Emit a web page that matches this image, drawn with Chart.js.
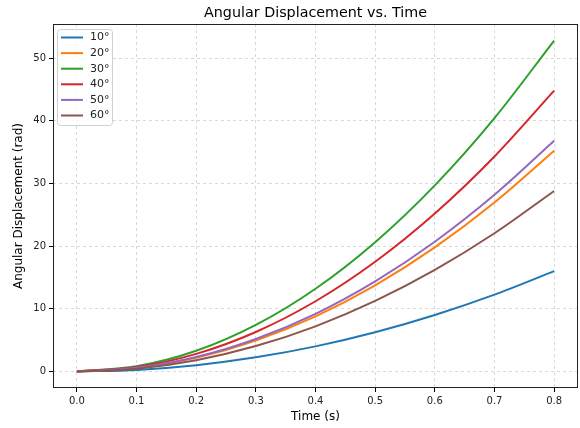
<!DOCTYPE html>
<html>
<head>
<meta charset="utf-8">
<script src="https://cdn.jsdelivr.net/npm/chart.js@4"></script>
<style>
  html, body { margin: 0; padding: 0; background: #fff; }
  #wrap { width: 580px; height: 428px; }
</style>
</head>
<body>
<div id="wrap"><canvas id="chart" width="580" height="428"></canvas></div>
<script>
// Data
const times = [0.0, 0.1, 0.2, 0.3, 0.4, 0.5, 0.6, 0.7, 0.8];
const angleLabels = ['10°', '20°', '30°', '40°', '50°', '60°'];
const disp10 = [0, 0.25, 1.0, 2.25, 4.0, 6.25, 9.0, 12.25, 16.0];
const disp20 = [0, 0.55, 2.2, 4.95, 8.8, 13.75, 19.8, 26.95, 35.2];
const disp30 = [0, 0.83, 3.3, 7.43, 13.2, 20.63, 29.7, 40.43, 52.8];
const disp40 = [0, 0.7, 2.8, 6.3, 11.2, 17.5, 25.2, 34.3, 44.8];
const disp50 = [0, 0.58, 2.3, 5.18, 9.2, 14.38, 20.7, 28.18, 36.8];
const disp60 = [0, 0.45, 1.8, 4.05, 7.2, 11.25, 16.2, 22.05, 28.8];
const xTicks = [0.0, 0.1, 0.2, 0.3, 0.4, 0.5, 0.6, 0.7, 0.8];
const yTicks = [0, 10, 20, 30, 40, 50];
const chartTitle = 'Angular Displacement vs. Time';

const colors = ['#1f77b4', '#ff7f0e', '#2ca02c', '#d62728', '#9467bd', '#8c564b'];
const series = [disp10, disp20, disp30, disp40, disp50, disp60];
const FONT = 'DejaVu Sans';

// Frame, title and legend drawn around/inside the plot area, matplotlib style
const framePlugin = {
    id: 'frame',
    afterDatasetsDraw(chart) {
        const { ctx, chartArea: a } = chart;
        ctx.save();
        ctx.strokeStyle = '#222';
        ctx.lineWidth = 1;
        ctx.strokeRect(a.left + 0.5, a.top + 0.5, a.right - a.left - 1, a.bottom - a.top - 1);

        // title centred over the plot area
        ctx.fillStyle = '#000';
        ctx.font = '14.3px ' + FONT;
        ctx.textAlign = 'center';
        ctx.textBaseline = 'middle';
        ctx.fillText(chartTitle, (a.left + a.right) / 2, a.top - 11);

        // legend box
        const bx = a.left + 4, by = a.top + 5, bw = 55, bh = 96;
        ctx.fillStyle = 'rgba(255,255,255,0.8)';
        ctx.strokeStyle = '#d0d0d0';
        ctx.beginPath();
        ctx.roundRect(bx + 0.5, by + 0.5, bw, bh, 3);
        ctx.fill();
        ctx.stroke();
        ctx.font = '11px ' + FONT;
        ctx.textAlign = 'left';
        chart.data.datasets.forEach((ds, i) => {
            const y = by + 8.5 + i * 15.6;
            ctx.strokeStyle = ds.borderColor;
            ctx.lineWidth = 2;
            ctx.beginPath();
            ctx.moveTo(bx + 4, y);
            ctx.lineTo(bx + 26, y);
            ctx.stroke();
            ctx.fillStyle = '#222';
            ctx.fillText(ds.label, bx + 33, y);
        });
        ctx.restore();
    }
};

const ctx = document.getElementById('chart').getContext('2d');
new Chart(ctx, {
    type: 'line',
    data: {
        datasets: series.map((vals, i) => ({
            label: angleLabels[i],
            data: times.map((t, j) => ({ x: t, y: vals[j] })),
            borderColor: colors[i],
            backgroundColor: colors[i],
            borderWidth: 2,
            pointRadius: 0,
            cubicInterpolationMode: 'monotone',
            fill: false,
            order: series.length - i
        }))
    },
    options: {
        responsive: false,
        animation: false,
        layout: { padding: { left: 12, right: 2, top: 24, bottom: 4 } },
        plugins: {
            legend: { display: false },
            tooltip: { enabled: false },
            title: { display: false }
        },
        scales: {
            x: {
                type: 'linear',
                min: -0.04,
                max: 0.84,
                afterBuildTicks: s => { s.ticks = xTicks.map(v => ({ value: v })); },
                afterFit: s => { s.height = 36; },
                ticks: {
                    color: '#222',
                    font: { family: FONT, size: 10 },
                    maxRotation: 0,
                    padding: 3,
                    callback: v => v.toFixed(1)
                },
                grid: {
                    color: 'rgba(0,0,0,0.15)',
                    tickColor: '#000',
                    tickLength: 4,
                    drawTicks: true
                },
                border: { display: false, dash: [3, 3] },
                title: {
                    display: true,
                    text: 'Time (s)',
                    color: '#000',
                    font: { family: FONT, size: 12 },
                    padding: { top: 2, bottom: 0 }
                }
            },
            y: {
                type: 'linear',
                min: -2.64,
                max: 55.44,
                afterBuildTicks: s => { s.ticks = yTicks.map(v => ({ value: v })); },
                afterFit: s => { s.width = 41; },
                ticks: {
                    color: '#222',
                    font: { family: FONT, size: 10 },
                    padding: 3
                },
                grid: {
                    color: 'rgba(0,0,0,0.15)',
                    tickColor: '#000',
                    tickLength: 4
                },
                border: { display: false, dash: [3, 3] },
                title: {
                    display: true,
                    text: 'Angular Displacement (rad)',
                    color: '#000',
                    font: { family: FONT, size: 12 },
                    padding: { top: 0, bottom: 4 }
                }
            }
        }
    },
    plugins: [framePlugin]
});
</script>
</body>
</html>
